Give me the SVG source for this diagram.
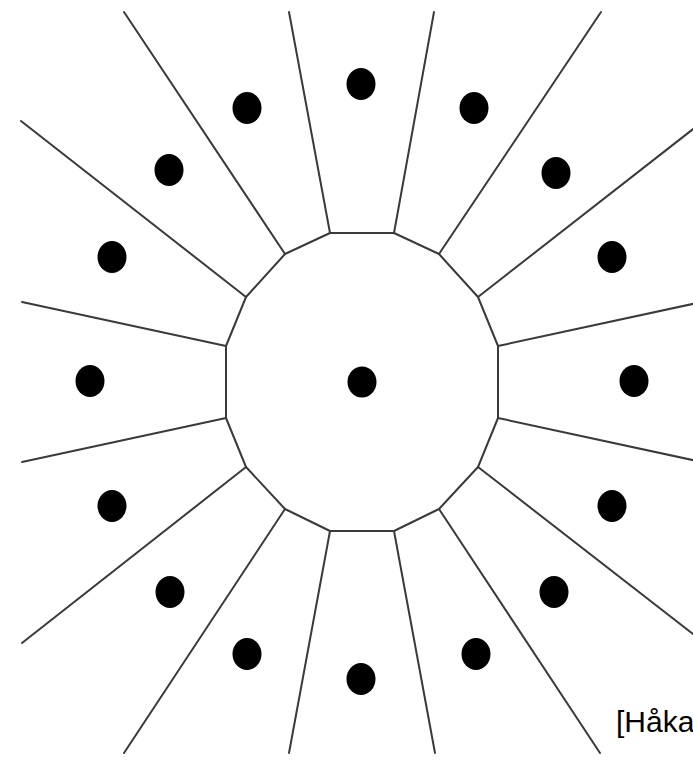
<svg xmlns="http://www.w3.org/2000/svg" width="693" height="765" viewBox="0 0 693 765">
<style>
.edge{stroke:#3a3a3a;stroke-width:2;fill:none;stroke-linecap:round;stroke-linejoin:round}
.site{fill:#000}
.cap{font-family:"Liberation Sans",Arial,sans-serif;font-size:30px;fill:#000}
</style>
<rect width="693" height="765" fill="#fff"/>
<g id="connectors">
<polygon class="edge" points="330,233 394,233 439,254 478,297 498,346 498,418 478,467 439,509 394,531 330,531 285,509 246,467 226,418 226,346 246,297 285,254"/>
<line class="edge" x1="330" y1="233" x2="289" y2="12"/>
<line class="edge" x1="394" y1="233" x2="434" y2="12"/>
<line class="edge" x1="285" y1="254" x2="124" y2="12"/>
<line class="edge" x1="439" y1="254" x2="601" y2="12"/>
<line class="edge" x1="246" y1="297" x2="21" y2="121"/>
<line class="edge" x1="478" y1="297" x2="697" y2="126"/>
<line class="edge" x1="226" y1="346" x2="22" y2="302"/>
<line class="edge" x1="498" y1="346" x2="697" y2="303"/>
<line class="edge" x1="226" y1="418" x2="22" y2="462"/>
<line class="edge" x1="498" y1="418" x2="697" y2="461"/>
<line class="edge" x1="246" y1="467" x2="22" y2="643"/>
<line class="edge" x1="478" y1="467" x2="697" y2="637"/>
<line class="edge" x1="285" y1="509" x2="124" y2="753"/>
<line class="edge" x1="439" y1="509" x2="600" y2="753"/>
<line class="edge" x1="330" y1="531" x2="289" y2="753"/>
<line class="edge" x1="394" y1="531" x2="435" y2="753"/>
</g>
<g id="site-center"><ellipse class="site" cx="362" cy="382" rx="14.5" ry="15.5"/></g>
<g id="site-1"><ellipse class="site" cx="361" cy="84" rx="14.5" ry="16"/></g>
<g id="site-2"><ellipse class="site" cx="474" cy="108" rx="14.5" ry="16"/></g>
<g id="site-3"><ellipse class="site" cx="556" cy="173" rx="14.5" ry="16"/></g>
<g id="site-4"><ellipse class="site" cx="612" cy="257" rx="14.5" ry="16"/></g>
<g id="site-5"><ellipse class="site" cx="634" cy="381" rx="14.5" ry="16"/></g>
<g id="site-6"><ellipse class="site" cx="612" cy="506" rx="14.5" ry="16"/></g>
<g id="site-7"><ellipse class="site" cx="554" cy="592" rx="14.5" ry="16"/></g>
<g id="site-8"><ellipse class="site" cx="476" cy="654" rx="14.5" ry="16"/></g>
<g id="site-9"><ellipse class="site" cx="361" cy="679" rx="14.5" ry="16"/></g>
<g id="site-10"><ellipse class="site" cx="247" cy="654" rx="14.5" ry="16"/></g>
<g id="site-11"><ellipse class="site" cx="170" cy="592" rx="14.5" ry="16"/></g>
<g id="site-12"><ellipse class="site" cx="112" cy="506" rx="14.5" ry="16"/></g>
<g id="site-13"><ellipse class="site" cx="90" cy="381" rx="14.5" ry="16"/></g>
<g id="site-14"><ellipse class="site" cx="112" cy="257" rx="14.5" ry="16"/></g>
<g id="site-15"><ellipse class="site" cx="169" cy="170" rx="14.5" ry="16"/></g>
<g id="site-16"><ellipse class="site" cx="247" cy="108" rx="14.5" ry="16"/></g>
<g id="caption"><text class="cap" x="616" y="732">[Håka</text></g>
</svg>
